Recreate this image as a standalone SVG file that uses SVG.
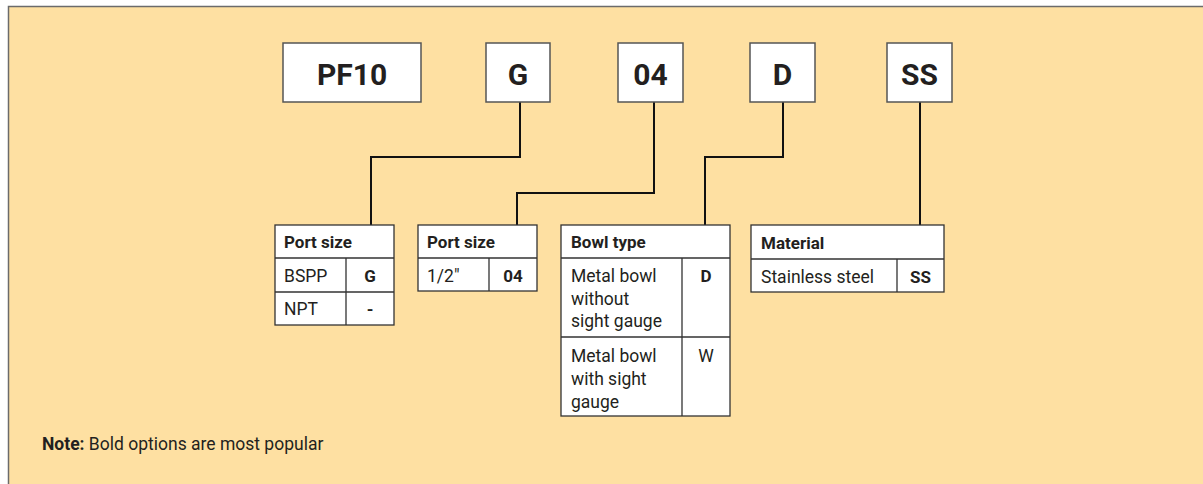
<svg xmlns="http://www.w3.org/2000/svg" width="1203" height="484" viewBox="0 0 1203 484">
<style>
.bg{fill:#FEE0A2;stroke:#6b6b6b;stroke-width:1.5}
.code{fill:#fff;stroke:#555;stroke-width:1.5}
.ct{font-family:Roboto,"Liberation Sans",sans-serif;font-weight:bold;font-size:30px;fill:#231F20;text-anchor:middle}
.tb{fill:#fff;stroke:#333;stroke-width:1.3}
.ln{stroke:#333;stroke-width:1.3;fill:none}
.t{font-family:Roboto,"Liberation Sans",sans-serif;font-size:17.5px;fill:#231F20}
.b{font-weight:bold;font-size:17px}
.m{text-anchor:middle}
.con{stroke:#111;stroke-width:2;fill:none}
</style>
<rect class="bg" x="8.5" y="6.5" width="1210" height="490"/>
<g id="connectors">
<polyline class="con" points="520,102 520,157 371,157 371,225"/>
<polyline class="con" points="654,102 654,193 517,193 517,225"/>
<polyline class="con" points="783,102 783,157 705,157 705,225"/>
<polyline class="con" points="920,102 920,225"/>
</g>
<g id="code-pf10"><rect class="code" x="283" y="43" width="138" height="59"/><text class="ct" x="352" y="85">PF10</text></g>
<g id="code-g"><rect class="code" x="486" y="43" width="64" height="59"/><text class="ct" x="518" y="85">G</text></g>
<g id="code-04"><rect class="code" x="618" y="43" width="65" height="59"/><text class="ct" x="650.5" y="85">04</text></g>
<g id="code-d"><rect class="code" x="750" y="43" width="65" height="59"/><text class="ct" x="782.5" y="85">D</text></g>
<g id="code-ss"><rect class="code" x="887" y="43" width="65" height="59"/><text class="ct" x="919.5" y="85">SS</text></g>
<g id="table-port-size-1">
<rect class="tb" x="275" y="225" width="119" height="100"/>
<path class="ln" d="M275 258H394M275 292H394M346 258V325"/>
<text class="t b" x="284" y="248">Port size</text>
<text class="t" x="284" y="282">BSPP</text><text class="t b m" x="370" y="282">G</text>
<text class="t" x="284" y="315">NPT</text><text class="t b m" x="370" y="315">-</text>
</g>
<g id="table-port-size-2">
<rect class="tb" x="418" y="225" width="119" height="66"/>
<path class="ln" d="M418 258H537M489 258V291"/>
<text class="t b" x="427" y="248">Port size</text>
<text class="t" x="427" y="282">1/2"</text><text class="t b m" x="513" y="282">04</text>
</g>
<g id="table-bowl-type">
<rect class="tb" x="561" y="225" width="169" height="191"/>
<path class="ln" d="M561 258H730M561 337H730M682 258V416"/>
<text class="t b" x="571" y="248">Bowl type</text>
<text class="t" x="571" y="282">Metal bowl</text>
<text class="t" x="571" y="305">without</text>
<text class="t" x="571" y="327">sight gauge</text>
<text class="t b m" x="706" y="282">D</text>
<text class="t" x="571" y="362">Metal bowl</text>
<text class="t" x="571" y="385">with sight</text>
<text class="t" x="571" y="408">gauge</text>
<text class="t m" x="706" y="362">W</text>
</g>
<g id="table-material">
<rect class="tb" x="751" y="225" width="193" height="67"/>
<path class="ln" d="M751 259H944M897 259V292"/>
<text class="t b" x="761" y="249">Material</text>
<text class="t" x="761" y="283">Stainless steel</text><text class="t b m" x="920.5" y="283">SS</text>
</g>
<g id="note">
<text class="t" x="42" y="450"><tspan class="b" style="font-size:17.5px">Note:</tspan> Bold options are most popular</text>
</g>
</svg>
